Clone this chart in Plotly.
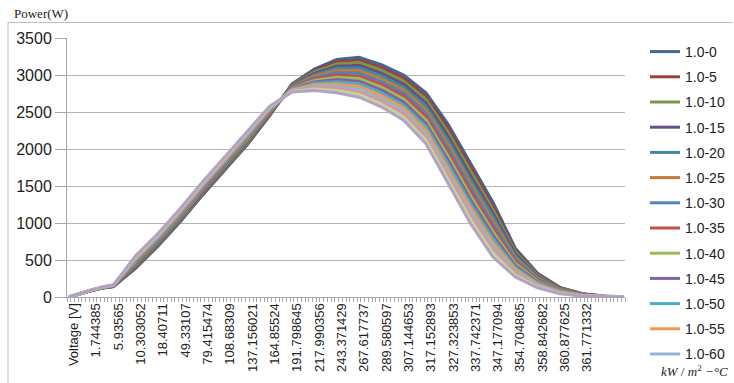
import plotly.graph_objects as go

# category (row) index of each sampled point
cat_index = [0, 3, 6, 9, 12, 18, 24, 30, 36, 42, 48, 54, 60, 66, 72, 78, 84, 90,
             96, 102, 108, 114, 120, 126, 132, 138, 144, 149]

tick_index = [0, 6, 12, 18, 24, 30, 36, 42, 48, 54, 60, 66, 72, 78, 84, 90, 96,
              102, 108, 114, 120, 126, 132, 138]
tick_labels = ["Voltage [V]", "1.744385", "5.93565", "10.303052", "18.40711", "49.33107",
               "79.415474", "108.68309", "137.156021", "164.85524", "191.798645",
               "217.990356", "243.371429", "267.617737", "289.580597", "307.144653",
               "317.152893", "327.323853", "337.742371", "347.177094", "354.704865",
               "358.842682", "360.877625", "361.771332"]

series_names = ["1.0-0", "1.0-5", "1.0-10", "1.0-15", "1.0-20", "1.0-25", "1.0-30",
                "1.0-35", "1.0-40", "1.0-45", "1.0-50", "1.0-55", "1.0-60",
                "1.0-65", "1.0-70", "1.0-75"]

s0 = [0,45,85,120,140,390,690,1020,1380,1720,2060,2450,2880,3080,3210,3240,3140,3000,2760,2330,1800,1280,660,320,130,45,12,3]
s1 = [0,45,86,121,142,401,701,1032,1392,1732,2072,2459,2873,3061,3180,3204,3102,2959,2714,2276,1746,1231,634,307,124,43,11,3]
s2 = [0,46,86,122,143,413,713,1044,1404,1744,2084,2467,2865,3041,3150,3168,3064,2919,2668,2222,1692,1181,608,294,119,41,11,3]
s3 = [0,46,87,123,145,424,724,1056,1416,1756,2096,2476,2858,3022,3120,3132,3026,2878,2622,2168,1638,1132,582,281,113,38,10,2]
s4 = [0,46,88,124,147,435,735,1068,1428,1768,2108,2485,2851,3003,3090,3096,2988,2837,2576,2114,1584,1083,556,268,107,36,9,2]
s5 = [0,47,88,125,148,447,747,1080,1440,1780,2120,2493,2843,2983,3060,3060,2950,2797,2530,2060,1530,1033,530,255,102,34,9,2]
s6 = [0,47,89,126,150,458,758,1092,1452,1792,2132,2502,2836,2964,3030,3024,2912,2756,2484,2006,1476,984,504,242,96,32,8,2]
s7 = [0,47,90,127,152,469,769,1104,1464,1804,2144,2511,2829,2945,3000,2988,2874,2715,2438,1952,1422,935,478,229,90,30,7,2]
s8 = [0,48,90,128,153,481,781,1116,1476,1816,2156,2519,2821,2925,2970,2952,2836,2675,2392,1898,1368,885,452,216,85,27,7,1]
s9 = [0,48,91,129,155,492,792,1128,1488,1828,2168,2528,2814,2906,2940,2916,2798,2634,2346,1844,1314,836,426,203,79,25,6,1]
s10 = [0,48,92,130,157,503,803,1140,1500,1840,2180,2537,2807,2887,2910,2880,2760,2593,2300,1790,1260,787,400,190,73,23,5,1]
s11 = [0,49,92,131,158,515,815,1152,1512,1852,2192,2545,2799,2867,2880,2844,2722,2553,2254,1736,1206,737,374,177,68,21,5,1]
s12 = [0,49,93,132,160,526,826,1164,1524,1864,2204,2554,2792,2848,2850,2808,2684,2512,2208,1682,1152,688,348,164,62,19,4,1]
s13 = [0,49,94,133,162,537,837,1176,1536,1876,2216,2563,2785,2829,2820,2772,2646,2471,2162,1628,1098,639,322,151,56,16,3,0]
s14 = [0,50,94,134,163,549,849,1188,1548,1888,2228,2571,2777,2809,2790,2736,2608,2431,2116,1574,1044,589,296,138,51,14,3,0]
s15 = [0,50,95,135,165,560,860,1200,1560,1900,2240,2580,2770,2790,2760,2700,2570,2390,2070,1520,990,540,270,125,45,12,2,0]

series_values = [s0, s1, s2, s3, s4, s5, s6, s7, s8, s9, s10, s11, s12, s13, s14, s15]

colors = ["#3F6797", "#9A403E", "#7C9647", "#665082", "#3C8A9E", "#C67838",
          "#4F81BD", "#C0504D", "#9BBB59", "#8064A2", "#4BACC6", "#F79646",
          "#95B3D7", "#D99694", "#C3D69B", "#B3A2C7"]

fig = go.Figure()
for i, (name, vals) in enumerate(zip(series_names, series_values)):
    fig.add_trace(go.Scatter(
        x=cat_index, y=vals, mode="lines", name=name,
        legendgroup=name, showlegend=(i < 13),
        line=dict(color=colors[i], width=3),
    ))

W, H = 734, 383
L, R, T, B = 67, 109, 38, 86
pw, ph = W - L - R, H - T - B

def px(x):
    return (x - L) / pw

def py(y):
    return (H - B - y) / ph

axis_col = "#a6a6a6"
fig.update_layout(
    width=W, height=H, autosize=False,
    margin=dict(l=L, r=R, t=T, b=B, pad=0, autoexpand=False),
    paper_bgcolor="white", plot_bgcolor="white",
    font=dict(family="Liberation Sans", color="#222222"),
    legend=dict(x=px(645), xanchor="left", y=py(36), yanchor="top",
                maxheight=400,
                font=dict(size=14, family="Liberation Sans", color="#222222"),
                traceorder="grouped", tracegroupgap=4, itemwidth=30,
                bgcolor="rgba(0,0,0,0)"),
    xaxis=dict(range=[-0.5, 149.5], tickmode="array", tickvals=tick_index,
               ticktext=tick_labels, tickangle=-90, ticks="", ticklabelshift=5,
               tickfont=dict(size=13, color="#222222"),
               showline=True, linecolor=axis_col, linewidth=1,
               showgrid=False, zeroline=False,
               minor=dict(ticks="outside", tickmode="linear", tick0=0.5, dtick=1,
                          ticklen=4, tickcolor=axis_col, showgrid=False)),
    yaxis=dict(range=[0, 3500], tickmode="linear", tick0=0, dtick=500,
               ticks="outside", ticklen=11, tickcolor=axis_col,
               tickfont=dict(size=16, color="#222222"),
               showline=True, linecolor=axis_col, linewidth=1,
               showgrid=True, gridcolor="#b4b4b4", gridwidth=1, zeroline=False),
    shapes=[
        dict(type="line", xref="paper", yref="paper", x0=px(8), x1=px(733),
             y0=py(22.5), y1=py(22.5), line=dict(color="#bfbfbf", width=1)),
        dict(type="line", xref="paper", yref="paper", x0=px(8), x1=px(8),
             y0=py(22.5), y1=py(383), line=dict(color="#bfbfbf", width=1)),
    ],
    annotations=[
        dict(text="Power(W)", xref="paper", yref="paper", x=px(12), y=py(14),
             xanchor="left", yanchor="middle", showarrow=False,
             font=dict(family="Liberation Serif", size=13, color="#222222")),
        dict(text="<i>kW</i> / <i>m</i><sup>2</sup> <i>−°C</i>", xref="paper", yref="paper",
             x=px(659), y=py(371), xanchor="left", yanchor="middle", showarrow=False,
             font=dict(family="Liberation Serif", size=13, color="#222222")),
    ],
)

fig.write_html("out.html")
